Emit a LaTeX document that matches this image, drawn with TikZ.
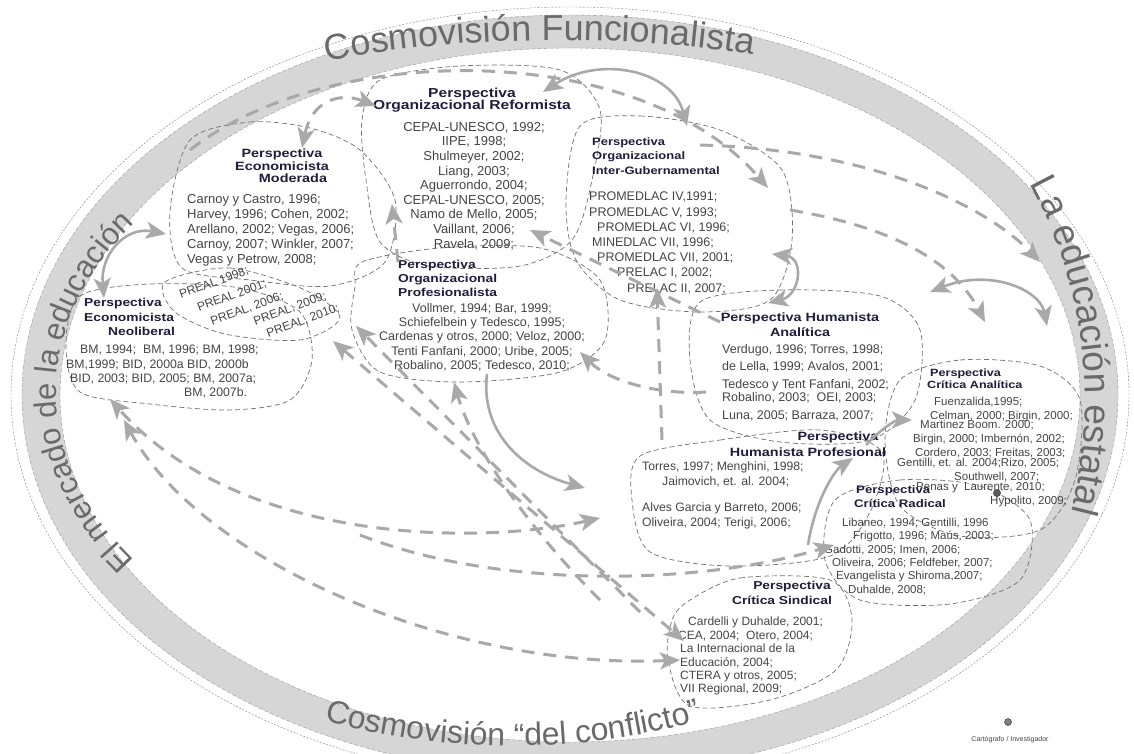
\documentclass[tikz,border=0pt]{standalone}
\usepackage{fontspec}
\setmainfont{Liberation Sans}
\newfontfamily\headfont[FakeStretch=1.2]{Liberation Sans}
\usetikzlibrary{arrows.meta,decorations.text}
\definecolor{ringgray}{HTML}{D6D6D6}
\definecolor{arrgray}{HTML}{A9A9A9}
\definecolor{headblue}{HTML}{1E1E3C}
\definecolor{reftext}{HTML}{454545}
\definecolor{blobline}{HTML}{707070}
\definecolor{ringtext}{HTML}{6A6A6A}
\tikzset{
  blob/.style={draw=blobline, line width=0.7pt, dash pattern=on 5pt off 3pt},
  head/.style={font=\headfont\bfseries\fontsize{12}{12.5}\selectfont, text=headblue, inner sep=0pt},
  refs/.style={font=\fontsize{13}{15}\selectfont, text=reftext, inner sep=0pt},
  tipS/.tip={Stealth[length=20pt,width=17pt,inset=5pt]},
  darr/.style={draw=arrgray, line width=3pt, dash pattern=on 13pt off 9pt, -tipS},
  sarr/.style={draw=arrgray, line width=2.6pt, -tipS},
  both/.style={tipS-tipS},
  ringlabel/.style={decorate, decoration={text along path, text align=center}},
}
\begin{document}
\begin{tikzpicture}[x=1pt,y=-1pt]
\useasboundingbox (0,0) rectangle (1134,753);
\fill[white] (0,0) rectangle (1134,753);

% ring of the four world views
\fill[ringgray, even odd rule] (570,395) ellipse [x radius=548pt, y radius=380pt]
                               (570,395) ellipse [x radius=510pt, y radius=347pt];
\draw[gray, line width=0.4pt, dash pattern=on 2pt off 1.5pt] (570,395) ellipse [x radius=559pt, y radius=388pt];
\draw[gray!80, line width=0.4pt, dash pattern=on 4pt off 2pt] (570,395) ellipse [x radius=548pt, y radius=380pt];
\draw[gray!80, line width=0.4pt, dash pattern=on 4pt off 2pt] (570,395) ellipse [x radius=510pt, y radius=347pt];

\path[ringlabel, decoration={text={|\fontsize{36}{36}\selectfont\color{ringtext}|Cosmovisión Funcionalista}}]
  (290,70) .. controls (420,34) and (650,30) .. (790,62);
\path[ringlabel, decoration={text={|\fontsize{32}{32}\selectfont\color{ringtext}|Cosmovisión “del conflicto”}}]
  plot[domain=40:140, samples=60, smooth, variable=\t] ({513-503*cos(\t)},{392+354*sin(\t)});
\path[ringlabel, decoration={text={|\fontsize{31}{31}\selectfont\color{ringtext}|El mercado de la educación}}]
  plot[domain=-62:62, samples=60, smooth, variable=\t] ({494-438*cos(\t)},{392-295*sin(\t)});
\path[ringlabel, decoration={text={|\fontsize{37}{37}\selectfont\color{ringtext}|La educación estatal}}]
  plot[domain=-50:34, samples=60, smooth, variable=\t] ({700+385*cos(\t)},{400+420*sin(\t)});

% outlines of the perspectives
\draw[blob] plot[smooth cycle] coordinates {(190,140) (250,122) (310,128) (360,150) (395,200) (385,262) (330,286) (250,280) (182,268) (170,212)};
\draw[blob] plot[smooth cycle] coordinates {(380,80) (460,66) (560,70) (600,110) (592,180) (572,240) (520,266) (430,266) (380,242) (366,180) (362,120)};
\draw[blob] plot[smooth cycle] coordinates {(580,126) (640,116) (720,130) (782,170) (792,240) (770,300) (700,312) (620,300) (576,260) (566,200)};
\draw[blob] plot[smooth cycle] coordinates {(80,296) (150,284) (240,288) (300,312) (312,360) (290,400) (230,410) (150,404) (80,392) (66,345)};
\draw[blob] plot[smooth cycle] coordinates {(165,282) (230,268) (305,290) (340,318) (300,340) (225,334) (175,312)};
\draw[blob] plot[smooth cycle] coordinates {(362,262) (440,248) (540,248) (600,280) (605,340) (560,372) (460,382) (380,372) (352,330) (355,287)};
\draw[blob] plot[smooth cycle] coordinates {(700,302) (780,290) (880,296) (920,330) (915,400) (870,440) (780,442) (710,420) (690,360)};
\draw[blob] plot[smooth cycle] coordinates {(640,456) (720,440) (820,430) (882,452) (870,512) (830,556) (730,566) (650,552) (632,500)};
\draw[blob] plot[smooth cycle] coordinates {(900,380) (960,360) (1040,366) (1080,400) (1075,480) (1040,530) (960,536) (900,506) (885,440)};
\draw[blob] plot[smooth cycle] coordinates {(835,500) (900,480) (980,486) (1030,520) (1020,580) (950,604) (860,600) (825,560)};
\draw[blob] plot[smooth cycle] coordinates {(690,600) (740,578) (830,580) (852,620) (836,670) (770,700) (690,706) (668,660) (672,620)};

% Economicista Moderada
\node[head, align=center] (modT) at (282,166) {Perspectiva\\Economicista\\\hspace*{22pt}Moderada};
\node[refs, align=left, anchor=north west] (modR) at (187,194) {Carnoy y Castro, 1996;\\Harvey, 1996; Cohen, 2002;\\Arellano, 2002; Vegas, 2006;\\Carnoy, 2007; Winkler, 2007;\\Vegas y Petrow, 2008;};
% Organizacional Reformista
\node[head, align=center, font=\headfont\bfseries\fontsize{13}{12.5}\selectfont] (refT) at (472,100) {Perspectiva\\Organizacional Reformista};
\node[refs, align=center, font=\fontsize{13}{14.6}\selectfont] (refR) at (474,186) {CEPAL-UNESCO, 1992;\\IIPE, 1998;\\Shulmeyer, 2002;\\Liang, 2003;\\Aguerrondo, 2004;\\CEPAL-UNESCO, 2005;\\Namo de Mello, 2005;\\Vaillant, 2006;\\Ravela, 2009;};
% Organizacional Inter-Gubernamental
\node[head, align=left, anchor=north west, font=\headfont\bfseries\fontsize{10.8}{14.5}\selectfont] (intT) at (592,137) {Perspectiva\\Organizacional\\Inter-Gubernamental};
\node[refs, align=left, anchor=north west, font=\fontsize{12.5}{15.2}\selectfont] (intR) at (589,192) {PROMEDLAC IV,1991;\\PROMEDLAC V, 1993;\\\hspace*{8pt}PROMEDLAC VI, 1996;\\\hspace*{3pt}MINEDLAC VII, 1996;\\\hspace*{8pt}PROMEDLAC VII, 2001;\\\hspace*{28pt}PRELAC I, 2002;\\\hspace*{38pt}PRELAC II, 2007;};
% Economicista Neoliberal
\node[head, align=left, anchor=north west, font=\headfont\bfseries\fontsize{11.5}{14.5}\selectfont] (neoT) at (84,298) {Perspectiva\\Economicista\\\hspace*{24pt}Neoliberal};
\node[refs, align=left, anchor=north west, font=\fontsize{12.3}{14.3}\selectfont] (neoR) at (66,345) {\hspace*{14pt}BM, 1994;\ \ BM, 1996; BM, 1998;\\BM,1999; BID, 2000a BID, 2000b\\\hspace*{4pt}BID, 2003; BID, 2005; BM, 2007a;\\\hspace*{118pt}BM, 2007b.};
% PREAL
\node[refs, rotate=20, font=\fontsize{12}{13}\selectfont] (pr1) at (214,283) {PREAL 1998;};
\node[refs, rotate=20, font=\fontsize{12}{13}\selectfont] (pr2) at (232,296) {PREAL 2001;};
\node[refs, rotate=20, font=\fontsize{12}{13}\selectfont] (pr3) at (247,309) {PREAL, 2006;};
\node[refs, rotate=20, font=\fontsize{12}{13}\selectfont] (pr4) at (290,309) {PREAL, 2009;};
\node[refs, rotate=20, font=\fontsize{12}{13}\selectfont] (pr5) at (303,321) {PREAL, 2010;};
% Organizacional Profesionalista
\node[head, align=left, anchor=north west, font=\headfont\bfseries\fontsize{11.5}{14}\selectfont] (proT) at (398,260) {Perspectiva\\Organizacional\\Profesionalista};
\node[refs, align=center, font=\fontsize{12.5}{14.3}\selectfont] (proR) at (482,337) {Vollmer, 1994; Bar, 1999;\\Schiefelbein y Tedesco, 1995;\\Cardenas y otros, 2000; Veloz, 2000;\\Tenti Fanfani, 2000; Uribe, 2005;\\Robalino, 2005; Tedesco, 2010;};
% Humanista Analitica
\node[head, align=center, font=\headfont\bfseries\fontsize{12}{15}\selectfont] (hanT) at (800,325) {Perspectiva Humanista\\Analítica};
\node[refs, align=left, anchor=north west, font=\fontsize{12.5}{17.5}\selectfont] (hanR) at (722,344) {Verdugo, 1996; Torres, 1998;\\de Lella, 1999; Avalos, 2001;\\Tedesco y Tent Fanfani, 2002;\\[-4pt]Robalino, 2003;\ \ OEI, 2003;\\Luna, 2005; Barraza, 2007;};
% Humanista Profesional
\node[head, align=center, font=\headfont\bfseries\fontsize{12}{16}\selectfont] (hprT) at (808,444) {\hspace*{60pt}Perspectiva\\Humanista Profesional};
\node[refs, align=left, anchor=north west, font=\fontsize{12.2}{15.5}\selectfont] (hprR) at (642,461) {Torres, 1997; Menghini, 1998;\\\hspace*{20pt}Jaimovich, et. al. 2004;\\[10pt]Alves Garcia y Barreto, 2006;\\Oliveira, 2004; Terigi, 2006;};
% Critica Analitica
\node[head, align=left, anchor=north west, font=\headfont\bfseries\fontsize{10.5}{12}\selectfont] (canT) at (927,369) {\hspace*{3pt}Perspectiva\\Crítica Analítica};
\node[refs, align=left, anchor=north west, font=\fontsize{11.5}{14}\selectfont] (canR) at (897,397) {\hspace*{37pt}Fuenzalida,1995;\\\hspace*{33pt}Celman, 2000; Birgin, 2000;\\[-5pt]\hspace*{23pt}Martinez Boom. 2000;\\\hspace*{16pt}Birgin, 2000; Imbernón, 2002;\\\hspace*{18pt}Cordero, 2003; Freitas, 2003;\\[-4pt]Gentilli, et. al. 2004;Rizo, 2005;\\\hspace*{57pt}Southwell, 2007;\\[-4pt]\hspace*{19pt}Penas y\ \ Laurente, 2010;\\\hspace*{93pt}Hypolito, 2009;};
% Critica Radical
\node[head, align=left, anchor=north west, font=\headfont\bfseries\fontsize{11}{14}\selectfont] (craT) at (854,485) {\hspace*{2pt}Perspectiva\\Crítica Radical};
\node[refs, align=left, anchor=north west, font=\fontsize{11.5}{13.3}\selectfont] (craR) at (832,518) {\hspace*{10pt}Libaneo, 1994; Gentilli, 1996\\\hspace*{21pt}Frigotto, 1996; Maús, 2003;\\\hspace*{-8pt}Gadotti, 2005; Imen, 2006;\\Oliveira, 2006; Feldfeber, 2007;\\\hspace*{4pt}Evangelista y Shiroma,2007;\\\hspace*{16pt}Duhalde, 2008;};
% Critica Sindical
\node[head, align=center, font=\headfont\bfseries\fontsize{11.5}{15}\selectfont] (csiT) at (782,593) {\hspace*{20pt}Perspectiva\\Crítica Sindical};
\node[refs, align=left, anchor=north west, font=\fontsize{12}{13.4}\selectfont] (csiR) at (678,617) {\hspace*{10pt}Cardelli y Duhalde, 2001;\\CEA, 2004;\ \ Otero, 2004;\\\hspace*{2pt}La Internacional de la\\\hspace*{2pt}Educación, 2004;\\\hspace*{2pt}CTERA y otros, 2005;\\\hspace*{2pt}VII Regional, 2009;};

% anchor points of the connections
\coordinate (nA) at (110,399);
\coordinate (nB) at (124,420);
\coordinate (hpL) at (600,518);
\coordinate (csL1) at (684,641);
\coordinate (csL2) at (680,660);
\coordinate (crL) at (834,545);

% connections between perspectives
\draw[sarr, both] (166,234) .. controls (125,226) and (100,255) .. (104,298);
\draw[darr, both] (302,148) .. controls (312,100) and (340,92) .. (376,106);
\draw[darr] (190,150) .. controls (330,40) and (640,40) .. (768,188);
\draw[sarr, both] (543,92) .. controls (600,55) and (672,70) .. (687,126);
\draw[darr] (398,262) -- (392,204);
\draw[darr] (720,322) -- (530,230);
\draw[darr] (706,392) .. controls (660,395) and (610,382) .. (580,352);
\draw[darr] (662,440) -- (657,288);
\draw[darr, both] (333,341) -- (csL1);
\draw[darr] (640,612) -- (356,326);
\draw[darr] (600,600) .. controls (520,520) and (470,440) .. (454,382);
\draw[sarr] (487,374) .. controls (480,430) and (520,470) .. (585,488);
\draw[darr, both] (hpL) .. controls (480,545) and (240,545) .. (nA);
\draw[darr, both] (csL2) .. controls (450,670) and (200,560) .. (nB);
\draw[darr] (360,535) .. controls (500,590) and (700,585) .. (crL);
\draw[sarr, both] (772,254) .. controls (805,258) and (800,295) .. (768,303);
\draw[darr] (700,145) .. controls (880,150) and (990,210) .. (1040,262);
\draw[darr] (790,210) .. controls (880,225) and (950,255) .. (985,322);
\draw[sarr, both] (930,292) .. controls (990,268) and (1040,290) .. (1047,326);
\draw[sarr] (866,445) .. controls (880,430) and (895,420) .. (912,420);
\draw[sarr] (808,545) .. controls (815,500) and (835,470) .. (853,458);

% legend
\fill[gray] (1008,722) circle (3.5pt);
\draw[gray!50!black, line width=0.5pt] (1008,722) circle (3.5pt);
\fill[gray!70!black] (997,493) circle (4pt);
\node[font=\fontsize{7}{8}\selectfont, text=reftext] (leg) at (1010,740) {Cartógrafo / Investigador};
\end{tikzpicture}
\end{document}
